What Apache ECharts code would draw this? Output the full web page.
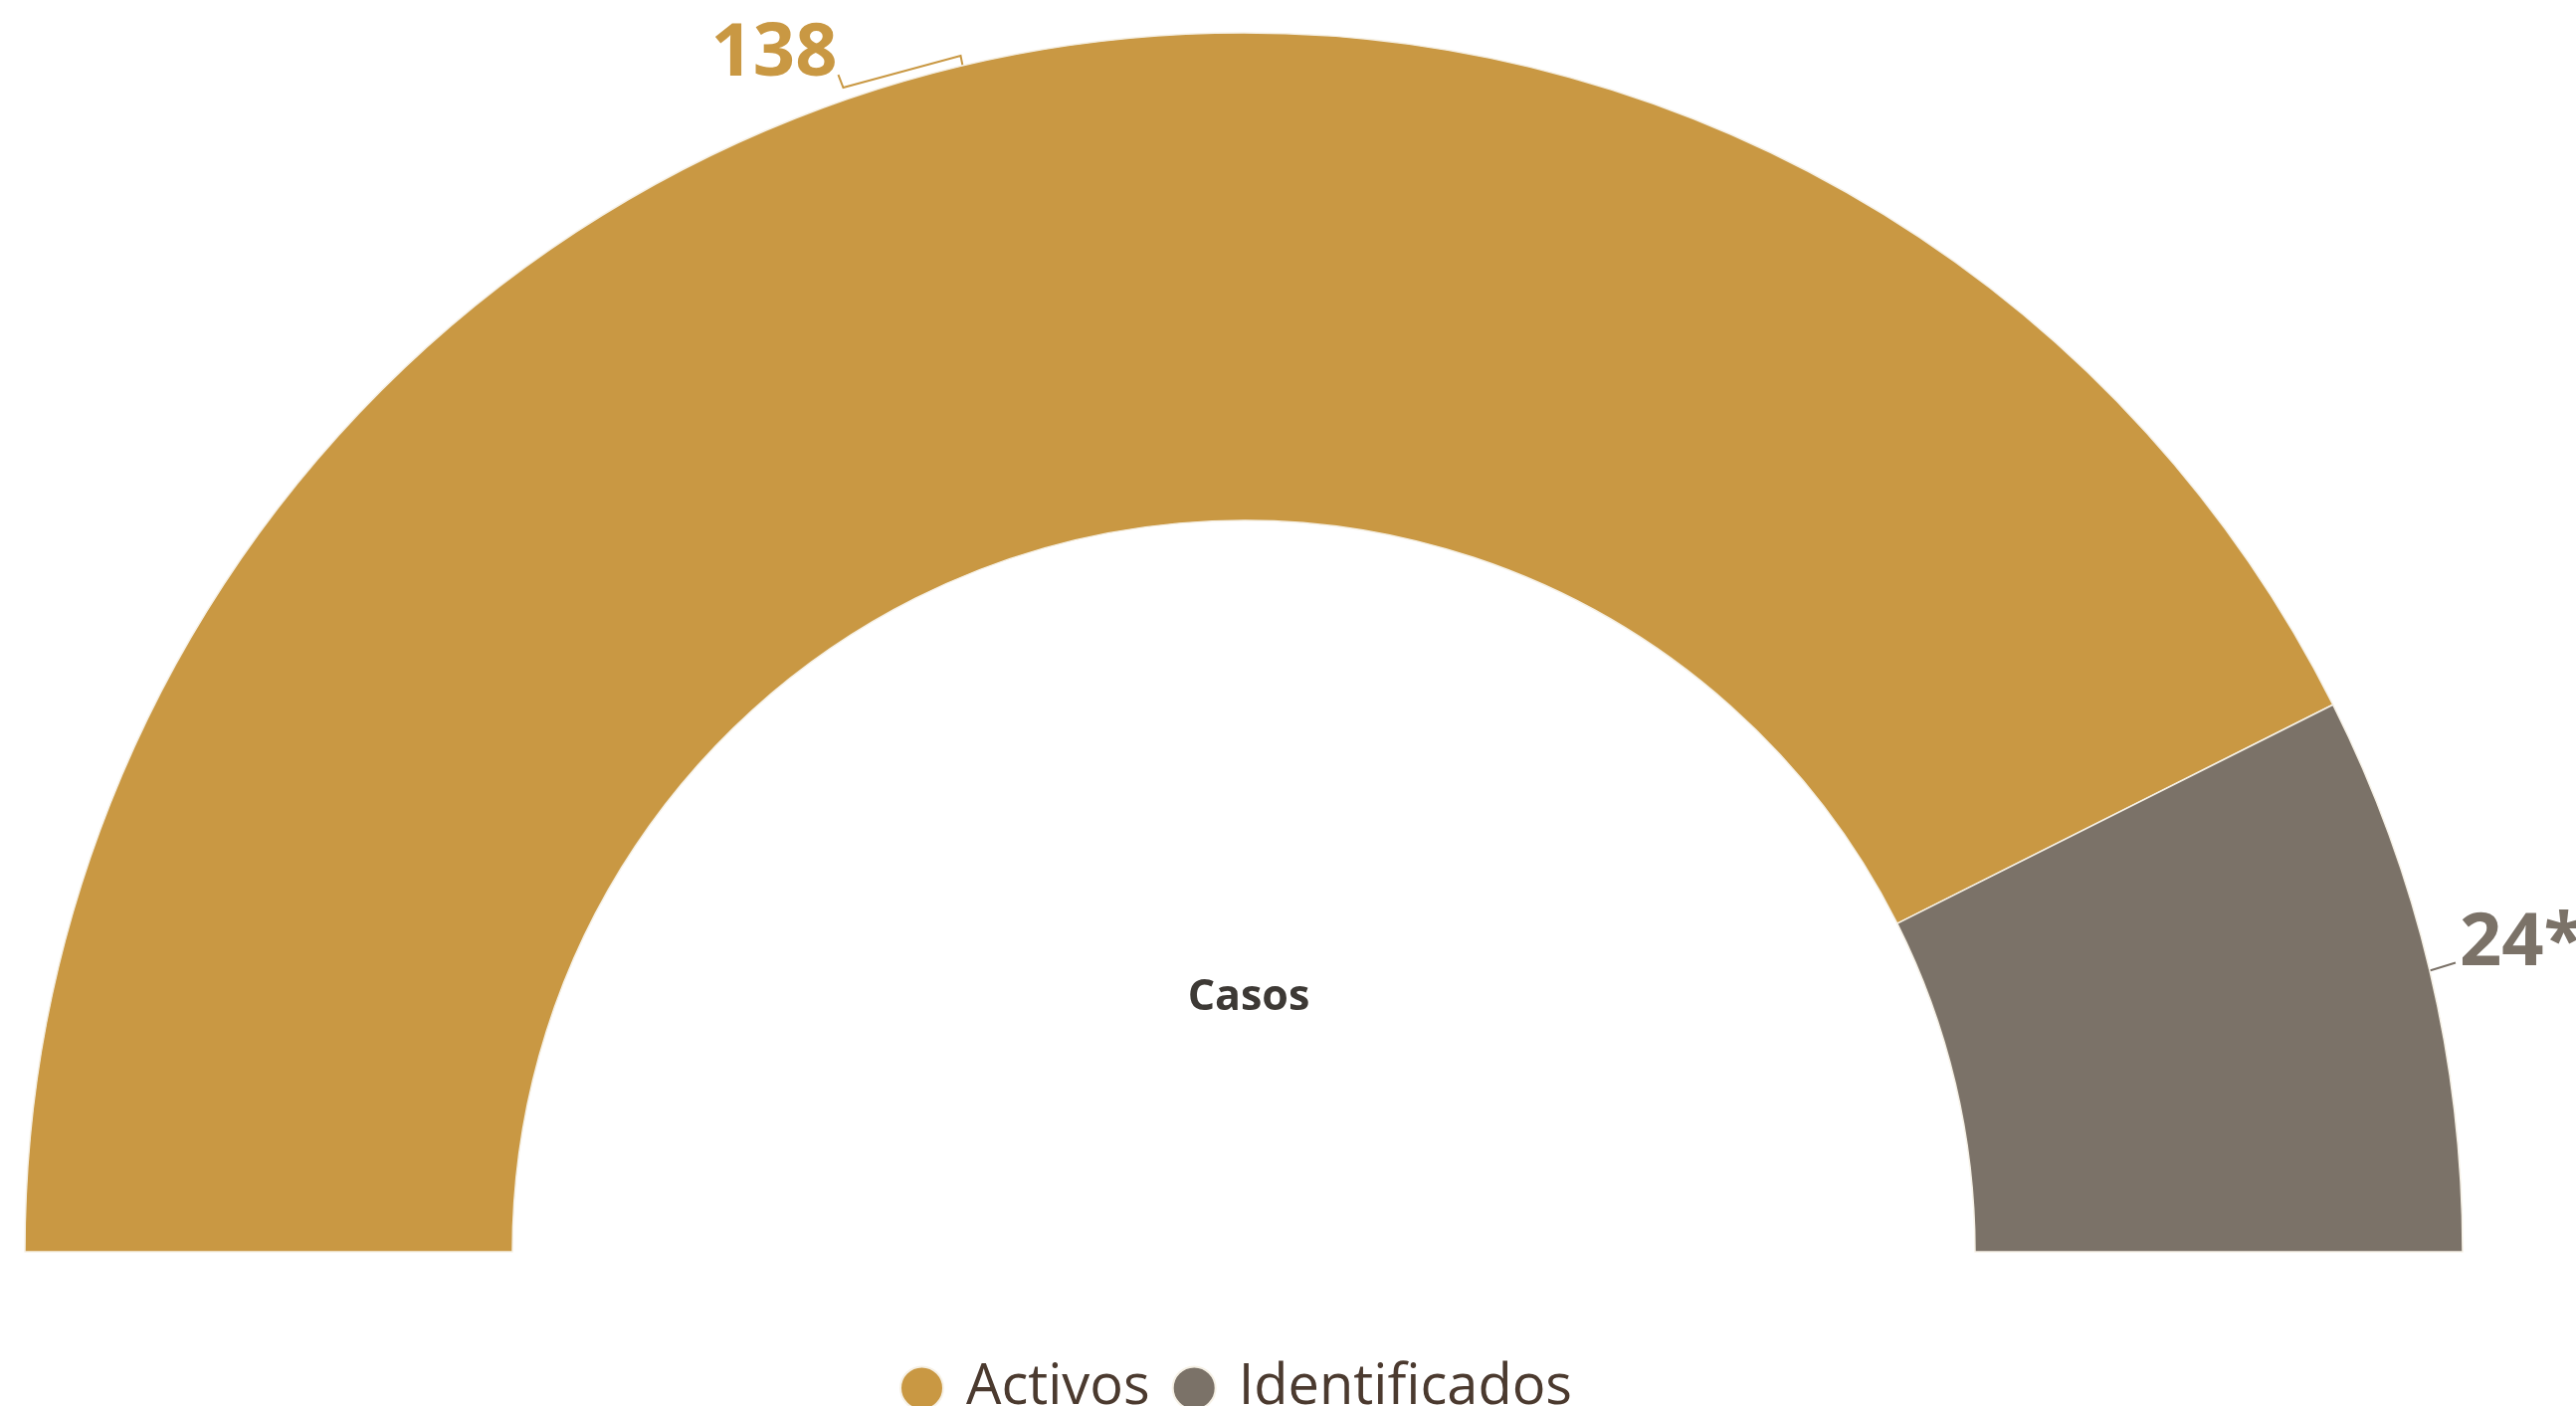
<!DOCTYPE html>
<html>
<head>
<meta charset="utf-8">
<script src="https://cdn.jsdelivr.net/npm/echarts@6/dist/echarts.min.js"></script>
<style>
html,body{margin:0;padding:0;background:#ffffff;}
#chart{width:2589px;height:1413px;}
</style>
</head>
<body>
<div id="chart"></div>
<script>
const categories = ['Activos', 'Identificados'];
const values = [138, 24];
const labelSuffix = ['', '*'];
const centerTitle = 'Casos';

const colors = ['#C99843', '#7B7268'];
const FONT = '"Open Sans", "Noto Sans", sans-serif';

const chart = echarts.init(document.getElementById('chart'), null, {renderer: 'canvas'});

const seriesData = categories.map((name, i) => ({
  name: name,
  value: values[i],
  itemStyle: {color: colors[i]},
  label: {color: colors[i]},
  labelLine: {lineStyle: {color: colors[i]}}
}));

const option = {
  backgroundColor: '#ffffff',
  animation: false,
  title: {
    text: centerTitle,
    left: 1250,
    top: 976,
    textAlign: 'center',
    textStyle: {fontFamily: FONT, fontWeight: 'bold', fontSize: 43, color: '#3d3935'}
  },
  legend: {
    data: categories,
    left: 899,
    top: 1362,
    icon: 'circle',
    itemWidth: 43,
    itemHeight: 43,
    itemGap: 22,
    textStyle: {fontFamily: FONT, fontSize: 56, color: '#4b3a2f', padding: [0, 0, 0, 18]}
  },
  series: [{
    type: 'pie',
    center: [1250, 1258],
    radius: [735, 1225],
    startAngle: 180,
    endAngle: 360,
    avoidLabelOverlap: false,
    itemStyle: {borderColor: '#f6f1e6', borderWidth: 1.5},
    label: {
      show: true,
      position: 'outside',
      fontFamily: FONT,
      fontWeight: 'bold',
      fontSize: 74,
      formatter: function (p) { return p.value + labelSuffix[p.dataIndex]; }
    },
    labelLine: {show: true, length: 10, length2: 10, lineStyle: {width: 2}},
    labelLayout: function (p) {
      const pts = p.labelLinePoints;
      if (!pts) return {};
      const a = pts[0];
      if (p.dataIndex === 0) {
        return {
          x: a[0] - 126,
          y: a[1] - 11,
          align: 'right',
          verticalAlign: 'middle',
          labelLinePoints: [[a[0], a[1]], [a[0] - 2, a[1] - 10], [a[0] - 120, a[1] + 22], [a[0] - 125, a[1] + 9]]
        };
      } else {
        return {
          x: a[0] + 30,
          y: a[1] - 27,
          align: 'left',
          verticalAlign: 'middle',
          labelLinePoints: [[a[0], a[1]], [a[0] + 26, a[1] - 8]]
        };
      }
    },
    emphasis: {disabled: true},
    data: seriesData
  }]
};
chart.setOption(option);
</script>
</body>
</html>
